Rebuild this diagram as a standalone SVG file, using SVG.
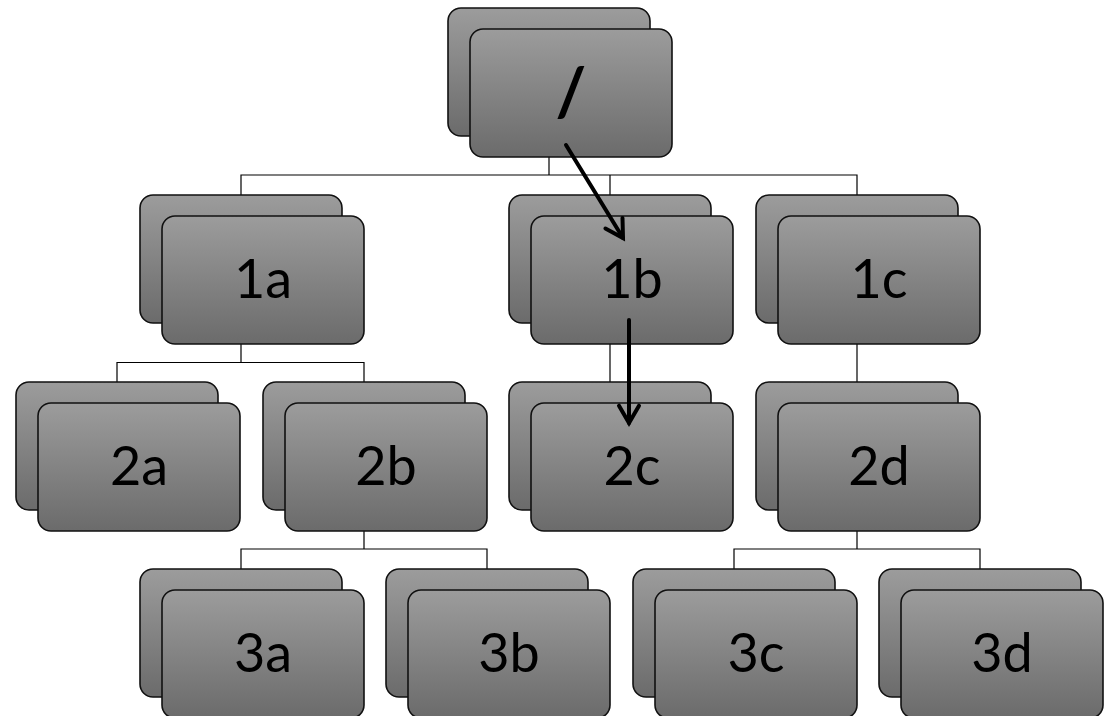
<svg xmlns="http://www.w3.org/2000/svg" width="1119" height="716" viewBox="0 0 1119 716">
<defs>
<linearGradient id="g" x1="0" y1="0" x2="0" y2="1">
<stop offset="0" stop-color="#9c9c9c"/>
<stop offset="1" stop-color="#6b6b6b"/>
</linearGradient>
<marker id="ah" markerUnits="userSpaceOnUse" markerWidth="26" markerHeight="26" refX="21" refY="13" orient="auto" overflow="visible">
<path d="M3.7,3 L21,13 L3.7,23" fill="none" stroke="#000" stroke-width="4" stroke-linecap="round" stroke-linejoin="miter"/>
</marker>
<style>
.card{fill:url(#g);stroke:#111;stroke-width:1.6}
.lbl{font-family:Lato,"Open Sans","Noto Sans",sans-serif;font-size:54px;fill:#000;text-anchor:middle}
.tree{fill:none;stroke:#000;stroke-width:1.2}
.arr{fill:none;stroke:#000;stroke-width:4;stroke-linecap:round}
</style>
</defs>
<rect width="1119" height="716" fill="#fff"/>
<g id="connectors">
<path class="tree" d="M549,157 V175 M241,195 V175 H857 V195 M610,175 V195"/>
<path class="tree" d="M241,344 V362.5 M117,382 V362.5 H364 V382"/>
<path class="tree" d="M610,344 V382"/>
<path class="tree" d="M857,344 V382"/>
<path class="tree" d="M364,531 V549 M241,569 V549 H487 V569"/>
<path class="tree" d="M857,531 V549 M734,569 V549 H980 V569"/>
</g>
<g id="node-root"><rect class="card" x="448" y="8" width="202" height="128" rx="13"/><rect class="card" x="470" y="29" width="202" height="128" rx="13"/><text class="lbl" x="571" y="116" style="font-size:66px;font-weight:700">/</text></g>
<g id="node-1a"><rect class="card" x="140" y="195" width="202" height="128" rx="13"/><rect class="card" x="162" y="216" width="202" height="128" rx="13"/><text class="lbl" x="263" y="298">1a</text></g>
<g id="node-1b"><rect class="card" x="509" y="195" width="202" height="128" rx="13"/><rect class="card" x="531" y="216" width="202" height="128" rx="13"/><text class="lbl" x="632" y="298">1b</text></g>
<g id="node-1c"><rect class="card" x="756" y="195" width="202" height="128" rx="13"/><rect class="card" x="778" y="216" width="202" height="128" rx="13"/><text class="lbl" x="879" y="298">1c</text></g>
<g id="node-2a"><rect class="card" x="16" y="382" width="202" height="128" rx="13"/><rect class="card" x="38" y="403" width="202" height="128" rx="13"/><text class="lbl" x="139" y="485">2a</text></g>
<g id="node-2b"><rect class="card" x="263" y="382" width="202" height="128" rx="13"/><rect class="card" x="285" y="403" width="202" height="128" rx="13"/><text class="lbl" x="386" y="485">2b</text></g>
<g id="node-2c"><rect class="card" x="509" y="382" width="202" height="128" rx="13"/><rect class="card" x="531" y="403" width="202" height="128" rx="13"/><text class="lbl" x="632" y="485">2c</text></g>
<g id="node-2d"><rect class="card" x="756" y="382" width="202" height="128" rx="13"/><rect class="card" x="778" y="403" width="202" height="128" rx="13"/><text class="lbl" x="879" y="485">2d</text></g>
<g id="node-3a"><rect class="card" x="140" y="569" width="202" height="128" rx="13"/><rect class="card" x="162" y="590" width="202" height="128" rx="13"/><text class="lbl" x="263" y="672">3a</text></g>
<g id="node-3b"><rect class="card" x="386" y="569" width="202" height="128" rx="13"/><rect class="card" x="408" y="590" width="202" height="128" rx="13"/><text class="lbl" x="509" y="672">3b</text></g>
<g id="node-3c"><rect class="card" x="633" y="569" width="202" height="128" rx="13"/><rect class="card" x="655" y="590" width="202" height="128" rx="13"/><text class="lbl" x="756" y="672">3c</text></g>
<g id="node-3d"><rect class="card" x="879" y="569" width="202" height="128" rx="13"/><rect class="card" x="901" y="590" width="202" height="128" rx="13"/><text class="lbl" x="1002" y="672">3d</text></g>
<g id="arrows">
<path class="arr" d="M566,145 L623,238" marker-end="url(#ah)"/>
<path class="arr" d="M629,320 L629,423" marker-end="url(#ah)"/>
</g>
</svg>
